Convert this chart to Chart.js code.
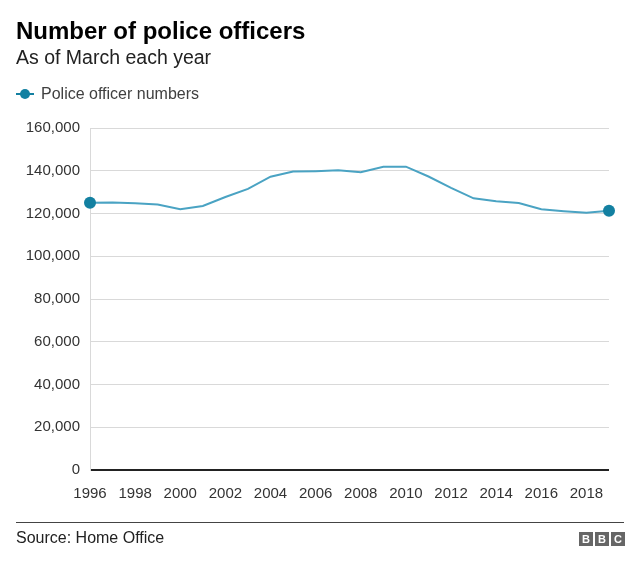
<!DOCTYPE html>
<html>
<head>
<meta charset="utf-8">
<script src="https://cdn.jsdelivr.net/npm/chart.js@4.4.0/dist/chart.umd.min.js"></script>
<style>
  html, body { margin: 0; padding: 0; background: #fff; }
  body { width: 640px; height: 568px; position: relative; overflow: hidden; font-family: "Liberation Sans", Arial, sans-serif; }
  #wrap { position: absolute; left: 0; top: 0; width: 640px; height: 568px; }
  .title { position: absolute; left: 16px; top: 17px; font-size: 24px; font-weight: bold; color: #000; line-height: 28px; }
  .subtitle { position: absolute; left: 16px; top: 45px; font-size: 19.5px; color: #222; line-height: 24px; }
  .legend { position: absolute; left: 16px; top: 85px; height: 18px; font-size: 16px; color: #404040; line-height: 18px; }
  .legend .mk { position: absolute; left: 0; top: 8px; width: 18px; height: 2px; background: #1380a1; }
  .legend .dot { position: absolute; left: 4px; top: 4px; width: 10px; height: 10px; border-radius: 50%; background: #1380a1; }
  .legend .lbl { position: absolute; left: 25px; top: 0; white-space: nowrap; }
  .rule { position: absolute; left: 16px; top: 522px; width: 608px; height: 1px; background: #444; }
  .source { position: absolute; left: 16px; top: 528px; font-size: 16px; color: #222; line-height: 19px; }
  .bbc { position: absolute; left: 579px; top: 532px; height: 14px; }
  .bbc span { display: inline-block; width: 14px; height: 14px; margin-left: 2px; background: #666; color: #fff; font-weight: bold; font-size: 11px; line-height: 14px; text-align: center; vertical-align: top; }
  .bbc span:first-child { margin-left: 0; }
</style>
</head>
<body>
<div id="wrap"><canvas id="chart"></canvas></div>
<div class="title">Number of police officers</div>
<div class="subtitle">As of March each year</div>
<div class="legend"><span class="mk"></span><span class="dot"></span><span class="lbl">Police officer numbers</span></div>
<div class="rule"></div>
<div class="source">Source: Home Office</div>
<div class="bbc"><span>B</span><span>B</span><span>C</span></div>
<script>
const years = [1996, 1997, 1998, 1999, 2000, 2001, 2002, 2003, 2004, 2005, 2006, 2007,
               2008, 2009, 2010, 2011, 2012, 2013, 2014, 2015, 2016, 2017, 2018, 2019];
const officers = [125000, 125100, 124800, 124200, 122000, 123500, 127700, 131500, 137200, 139600, 139800, 140200,
                  139300, 141900, 141900, 137300, 132000, 127100, 125700, 124900, 122000, 121100, 120300, 121300];
const xTicks = [1996, 1998, 2000, 2002, 2004, 2006, 2008, 2010, 2012, 2014, 2016, 2018];
const yTicks = [0, 20000, 40000, 60000, 80000, 100000, 120000, 140000, 160000];

const lineColor = '#4aa3c3';
const dotColor  = '#1380a1';
const textColor = '#333';
const gridColor = '#d9d9d9';
const font = { family: '"Liberation Sans", Arial, sans-serif', size: 15 };

const last = officers.length - 1;

new Chart(document.getElementById('chart'), {
  type: 'line',
  data: {
    datasets: [{
      label: 'Police officer numbers',
      data: years.map((y, i) => ({ x: y, y: officers[i] })),
      borderColor: lineColor,
      borderWidth: 2,
      tension: 0,
      pointRadius: officers.map((v, i) => (i === 0 || i === last) ? 6 : 0),
      pointBackgroundColor: dotColor,
      pointBorderWidth: 0,
      clip: false,
    }],
  },
  options: {
    responsive: true, maintainAspectRatio: false, animation: false,
    layout: { padding: { left: 0, right: 31, top: 128, bottom: 0 } },
    plugins: { legend: { display: false }, tooltip: { enabled: false } },
    scales: {
      x: {
        type: 'linear', min: 1996, max: 2019,
        afterBuildTicks: s => { s.ticks = xTicks.map(v => ({ value: v })); },
        afterFit: s => { s.height = 98; },
        ticks: { color: textColor, font, padding: 15, maxRotation: 0, autoSkip: false, callback: v => String(v) },
        grid: { display: false, drawTicks: false },
        border: { display: false },
      },
      y: {
        min: 0, max: 160000,
        afterBuildTicks: s => { s.ticks = yTicks.map(v => ({ value: v })); },
        afterFit: s => { s.width = 90; },
        ticks: { color: textColor, font, padding: 10, callback: v => v.toLocaleString('en-GB') },
        grid: {
          drawTicks: false,
          color: c => c.tick && c.tick.value === 0 ? '#222' : gridColor,
          lineWidth: c => c.tick && c.tick.value === 0 ? 2 : 1,
        },
        border: { display: true, color: gridColor },
      },
    },
  },
});
</script>
</body>
</html>
